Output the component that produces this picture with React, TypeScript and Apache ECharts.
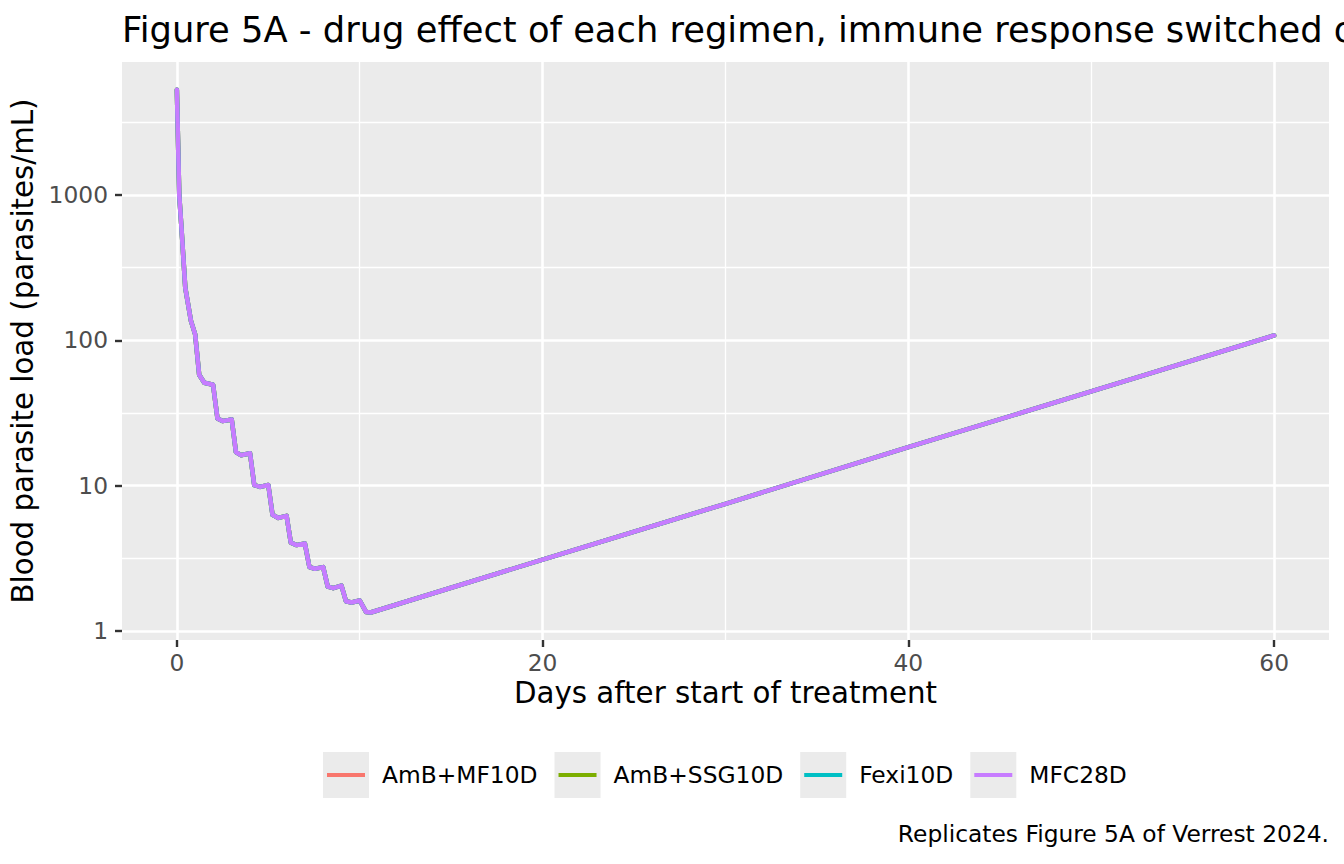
import React, { useEffect, useRef } from "react";
import * as echarts from "echarts";

// ---- data ----
const seriesNames = ["AmB+MF10D", "AmB+SSG10D", "Fexi10D", "MFC28D"];
const seriesColors = ["#F8766D", "#7CAE00", "#00BFC4", "#C77CFF"];

const days = [
  0, 0.13, 0.26, 0.46, 0.77, 1.0, 1.22, 1.5, 1.98, 2.22, 2.5, 3.0, 3.23, 3.5,
  4.0, 4.23, 4.55, 5.0, 5.23, 5.55, 6.0, 6.23, 6.55, 7.0, 7.25, 7.55, 8.0,
  8.25, 8.55, 9.0, 9.25, 9.55, 10.0, 10.35, 10.6, 20, 30, 40, 50, 60,
];
const load = [
  5300, 1000, 570, 230, 136, 110, 58, 51, 49.5, 29, 27.8, 28.5, 17, 16.2, 16.7,
  10.1, 9.8, 10.1, 6.3, 6.0, 6.2, 4.05, 3.9, 4.0, 2.75, 2.68, 2.75, 2.02, 1.97,
  2.05, 1.6, 1.57, 1.62, 1.35, 1.34, 3.1, 7.5, 18.4, 44.5, 108,
];

const xBreaks = [0, 20, 40, 60];
const yBreaks = [1, 10, 100, 1000];
const xRange = [-3, 63];
const yRangeLog = [-0.062, 3.915];

const titleText =
  "Figure 5A - drug effect of each regimen, immune response switched off";
const xTitle = "Days after start of treatment";
const yTitle = "Blood parasite load (parasites/mL)";
const captionText = "Replicates Figure 5A of Verrest 2024.";

const FONT = "DejaVu Sans";
const SMALL = 23.35;
const AXIS_TITLE = 29.3;
const TITLE = 35.3;

export default function App() {
  const ref = useRef<HTMLDivElement>(null);

  useEffect(() => {
    if (!ref.current) return;
    const chart = echarts.init(ref.current, undefined, { renderer: "svg" });

    const points = days.map((d, i) => [d, Math.log10(load[i])]);

    const legendCommon = {
      left: 323,
      top: 752,
      padding: 0,
      orient: "horizontal" as const,
      itemWidth: 54,
      itemHeight: 46,
      itemGap: 17,
      selectedMode: false,
      data: seriesNames,
    };

    const option: any = {
      animation: false,
      backgroundColor: "#FFFFFF",
      textStyle: { fontFamily: FONT },
      title: [
        {
          text: titleText,
          left: 122,
          top: 12,
          padding: 0,
          textStyle: {
            fontFamily: FONT,
            fontSize: TITLE,
            fontWeight: "normal",
            color: "#000000",
          },
        },
        {
          text: captionText,
          right: 15,
          top: 822,
          padding: 0,
          textStyle: {
            fontFamily: FONT,
            fontSize: SMALL,
            fontWeight: "normal",
            color: "#000000",
          },
        },
      ],
      legend: [
        {
          ...legendCommon,
          z: 4,
          icon: "path://M0,0H46V46H0Z M53.99,22.99h0.01v0.01h-0.01Z",
          itemStyle: { color: "#EBEBEB", borderWidth: 0 },
          textStyle: { fontFamily: FONT, fontSize: SMALL, color: "#000000" },
        },
        {
          ...legendCommon,
          z: 5,
          icon:
            "path://M0,0h0.01v0.01h-0.01Z M53.99,45.99h0.01v0.01h-0.01Z M4,21H42V25H4Z",
          itemStyle: { borderWidth: 0 },
          textStyle: { fontFamily: FONT, fontSize: SMALL, color: "rgba(0,0,0,0)" },
        },
      ],
      grid: {
        left: 122,
        right: 15,
        top: 62,
        bottom: 224,
        show: true,
        backgroundColor: "#EBEBEB",
        borderWidth: 0,
      },
      xAxis: {
        type: "value",
        min: xRange[0],
        max: xRange[1],
        splitNumber: 3,
        name: xTitle,
        nameLocation: "middle",
        nameGap: 36,
        nameTextStyle: { fontFamily: FONT, fontSize: AXIS_TITLE, color: "#000000" },
        axisLine: { show: false, onZero: false },
        axisTick: {
          show: true,
          length: 7,
          customValues: xBreaks,
          lineStyle: { color: "#333333", width: 2.4 },
        },
        axisLabel: {
          customValues: xBreaks,
          margin: 11,
          fontFamily: FONT,
          fontSize: SMALL,
          color: "#4D4D4D",
        },
        splitLine: {
          show: true,
          lineStyle: { color: "#FFFFFF", width: 2.6 },
        },
        minorTick: { show: false, splitNumber: 2 },
        minorSplitLine: {
          show: true,
          lineStyle: { color: "#FFFFFF", width: 1.3 },
        },
      },
      yAxis: {
        type: "value",
        min: yRangeLog[0],
        max: yRangeLog[1],
        name: yTitle,
        nameLocation: "middle",
        nameRotate: 90,
        nameGap: 79,
        nameTextStyle: { fontFamily: FONT, fontSize: AXIS_TITLE, color: "#000000" },
        axisLine: { show: false, onZero: false },
        axisTick: {
          show: true,
          length: 7,
          customValues: yBreaks.map((v) => Math.log10(v)),
          lineStyle: { color: "#333333", width: 2.4 },
        },
        axisLabel: {
          customValues: yBreaks.map((v) => Math.log10(v)),
          margin: 14,
          fontFamily: FONT,
          fontSize: SMALL,
          color: "#4D4D4D",
          formatter: (v: number) => String(Math.round(Math.pow(10, v))),
        },
        splitLine: {
          show: true,
          lineStyle: { color: "#FFFFFF", width: 2.6 },
        },
        minorTick: { show: false, splitNumber: 2 },
        minorSplitLine: {
          show: true,
          lineStyle: { color: "#FFFFFF", width: 1.3 },
        },
      },
      series: seriesNames.map((name, i) => ({
        name,
        type: "line",
        data: points,
        showSymbol: false,
        symbol: "none",
        smooth: false,
        color: seriesColors[i],
        itemStyle: { color: seriesColors[i] },
        lineStyle: { color: seriesColors[i], width: 4.5, cap: "round", join: "round" },
        z: 2 + i,
      })),
    };

    chart.setOption(option);
    return () => chart.dispose();
  }, []);

  return (
    <div
      ref={ref}
      style={{
        position: "fixed",
        left: 0,
        top: 0,
        width: "1344px",
        height: "864px",
      }}
    />
  );
}
